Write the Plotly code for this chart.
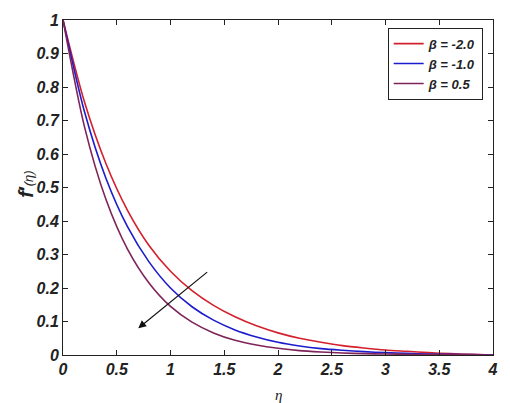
import plotly.graph_objects as go

# similarity variable and velocity profiles f'(eta)
eta = [0.0, 0.2, 0.4, 0.6, 0.8, 1.0, 1.2, 1.4, 1.6, 1.8, 2.0,
       2.2, 2.4, 2.6, 2.8, 3.0, 3.2, 3.4, 3.6, 3.8, 4.0]
fp_beta_m2 = [1.0, 0.755, 0.571, 0.432, 0.327, 0.250, 0.192, 0.148, 0.114, 0.087, 0.066,
              0.050, 0.038, 0.028, 0.021, 0.015, 0.011, 0.007, 0.004, 0.002, 0.0]
fp_beta_m1 = [1.0, 0.726, 0.527, 0.383, 0.278, 0.200, 0.144, 0.104, 0.075, 0.054, 0.038,
              0.027, 0.019, 0.014, 0.010, 0.007, 0.005, 0.003, 0.002, 0.001, 0.0]
fp_beta_05 = [1.0, 0.681, 0.464, 0.316, 0.215, 0.145, 0.098, 0.066, 0.044, 0.030, 0.020,
              0.013, 0.009, 0.006, 0.004, 0.003, 0.002, 0.001, 0.0007, 0.0003, 0.0]
labels = ["-2.0", "-1.0", "0.5"]
colors = ["#d4202c", "#1c1ccc", "#7e2458"]

x_ticks = [0, 0.5, 1, 1.5, 2, 2.5, 3, 3.5, 4]
y_ticks = [0, 0.1, 0.2, 0.3, 0.4, 0.5, 0.6, 0.7, 0.8, 0.9, 1]

fig = go.Figure()
for ys, lab, col in zip([fp_beta_m2, fp_beta_m1, fp_beta_05], labels, colors):
    fig.add_trace(go.Scatter(
        x=eta, y=ys, mode="lines",
        name=f"β = {lab}",
        line=dict(color=col, width=1.6, shape="spline", smoothing=0.8),
    ))

tickfont = dict(family="Liberation Sans, Arial", size=16, color="#222222",
                weight="bold", style="italic")
axis_common = dict(
    showgrid=False, zeroline=False, showline=True, linecolor="#222222",
    linewidth=1, mirror="ticks", ticks="inside", ticklen=5,
    tickcolor="#222222", tickfont=tickfont,
)
fig.update_xaxes(range=[0, 4], tickvals=x_ticks,
                 ticktext=[str(t) for t in x_ticks], **axis_common)
fig.update_yaxes(range=[0, 1], tickvals=y_ticks,
                 ticktext=[str(t) for t in y_ticks], **axis_common)

# arrow showing increasing beta
fig.add_annotation(x=0.70, y=0.08, ax=1.355, ay=0.251, xref="x", yref="y",
                   axref="x", ayref="y", text="", showarrow=True,
                   arrowhead=2, arrowsize=1.3, arrowwidth=1.2, arrowcolor="#111111")

# axis titles
fig.add_annotation(x=-0.115, y=0.51, xref="paper", yref="paper", textangle=-90,
                   text="<b><i>f</i>′</b><span style='font-size:13px'><i>(η)</i></span>",
                   showarrow=False, font=dict(family="Liberation Sans, Arial",
                                              size=20, color="#222222"))
fig.add_annotation(x=0.5, y=-0.12, xref="paper", yref="paper", yanchor="middle",
                   text="<i>η</i>", showarrow=False,
                   font=dict(family="Liberation Serif, Times New Roman",
                             size=15, color="#222222"))

fig.update_layout(
    width=510, height=403,
    margin=dict(l=63, r=13, t=14, b=48),
    paper_bgcolor="white", plot_bgcolor="white",
    showlegend=True,
    legend=dict(x=0.976, y=0.977, xanchor="right", yanchor="top",
                bordercolor="#222222", borderwidth=1, bgcolor="white",
                font=dict(family="Liberation Sans, Arial", size=13,
                          color="#222222", weight="bold", style="italic"),
                itemwidth=30, tracegroupgap=0),
)

fig.write_html(
    "out.html",
    config={"displayModeBar": False},
    post_script="document.body.style.margin='0';document.body.style.overflow='hidden';",
)
